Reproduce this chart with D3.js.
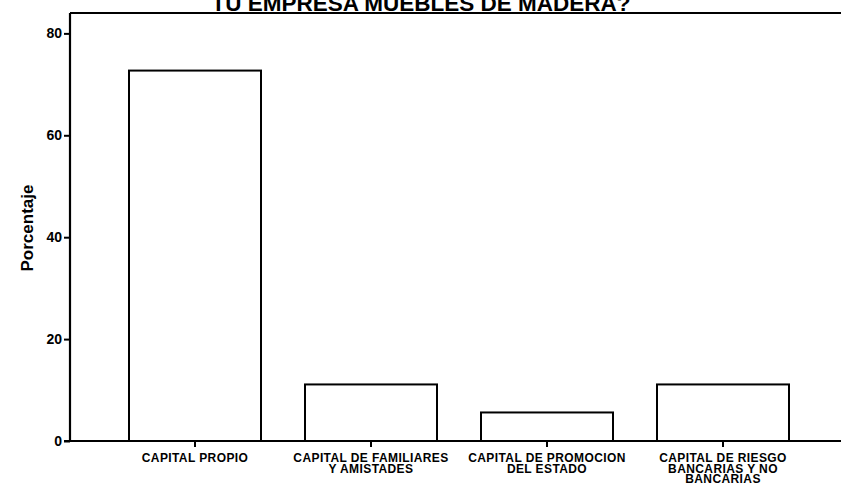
<!DOCTYPE html>
<html>
<head>
<meta charset="utf-8">
<script src="https://cdn.jsdelivr.net/npm/d3@7"></script>
<style>
  html, body { margin: 0; padding: 0; background: #fff; }
  svg { display: block; }
  text { font-family: "Liberation Sans", Arial, sans-serif; font-weight: bold; fill: #000; }
</style>
</head>
<body>
<svg id="chart" width="841" height="488"></svg>
<script>
// Fuente de financiamiento de la empresa (porcentaje)
const categories = [
  ["CAPITAL PROPIO"],
  ["CAPITAL DE FAMILIARES", "Y AMISTADES"],
  ["CAPITAL DE PROMOCION", "DEL ESTADO"],
  ["CAPITAL DE RIESGO", "BANCARIAS Y NO", "BANCARIAS"]
];
const values = [72.7, 11.1, 5.6, 11.1];
const yTicks = [0, 20, 40, 60, 80];
const title = "TU EMPRESA MUEBLES DE MADERA?";
const yTitle = "Porcentaje";

const svg = d3.select("#chart");
const plotLeft = 70, plotTop = 13, plotBottom = 441, plotRight = 845;

const x = d3.scaleBand()
  .domain(d3.range(categories.length))
  .range([107, 811])
  .paddingInner(0.25)
  .paddingOuter(0.125);

const y = d3.scaleLinear().domain([0, 84]).range([plotBottom, plotTop]);

// Frame: top border line
svg.append("line")
  .attr("x1", plotLeft).attr("x2", plotRight)
  .attr("y1", plotTop).attr("y2", plotTop)
  .attr("stroke", "#000").attr("stroke-width", 2);

// Bars
svg.append("g").selectAll("rect")
  .data(values)
  .join("rect")
  .attr("x", (d, i) => x(i))
  .attr("width", x.bandwidth())
  .attr("y", d => y(d))
  .attr("height", d => y(0) - y(d))
  .attr("fill", "#fff")
  .attr("stroke", "#000")
  .attr("stroke-width", 2);

// Y axis
const yAxis = svg.append("g")
  .attr("transform", `translate(${plotLeft},0)`)
  .call(d3.axisLeft(y).tickValues(yTicks).tickSize(6).tickPadding(2).tickFormat(d3.format("d")));
yAxis.select(".domain").remove();
yAxis.append("line")
  .attr("x1", 0).attr("x2", 0).attr("y1", plotTop).attr("y2", plotBottom)
  .attr("stroke", "#000").attr("stroke-width", 2.2);
yAxis.selectAll(".tick line").attr("stroke", "#000").attr("stroke-width", 2);
yAxis.selectAll(".tick text")
  .attr("font-size", 14).attr("font-weight", "bold")
  .attr("font-family", "'Liberation Sans', Arial, sans-serif").attr("fill", "#000");

// X axis
const xAxis = svg.append("g")
  .attr("transform", `translate(0,${plotBottom})`)
  .call(d3.axisBottom(x).tickSize(6).tickFormat(""));
xAxis.select(".domain").remove();
xAxis.append("line")
  .attr("x1", plotLeft - 6).attr("x2", plotRight).attr("y1", 0).attr("y2", 0)
  .attr("stroke", "#000").attr("stroke-width", 2.2);
xAxis.selectAll(".tick line").attr("stroke", "#000").attr("stroke-width", 2);

// Category labels (multi-line, tightly stacked)
svg.append("g").selectAll("text")
  .data(categories)
  .join("text")
  .attr("text-anchor", "middle")
  .attr("font-size", 12)
  .attr("letter-spacing", 0.4)
  .each(function(lines, i) {
    const t = d3.select(this);
    lines.forEach((ln, k) => {
      t.append("tspan")
        .attr("x", x(i) + x.bandwidth() / 2)
        .attr("y", 462 + k * 10.5)
        .text(ln);
    });
  });

// Y axis title
svg.append("text")
  .attr("transform", "translate(33,228) rotate(-90)")
  .attr("text-anchor", "middle")
  .attr("font-size", 17)
  .text(yTitle);

// Chart title (top edge cut by the page)
svg.append("text")
  .attr("x", 421).attr("y", 11)
  .attr("text-anchor", "middle")
  .attr("font-size", 22.5)
  .text(title);
</script>
</body>
</html>
